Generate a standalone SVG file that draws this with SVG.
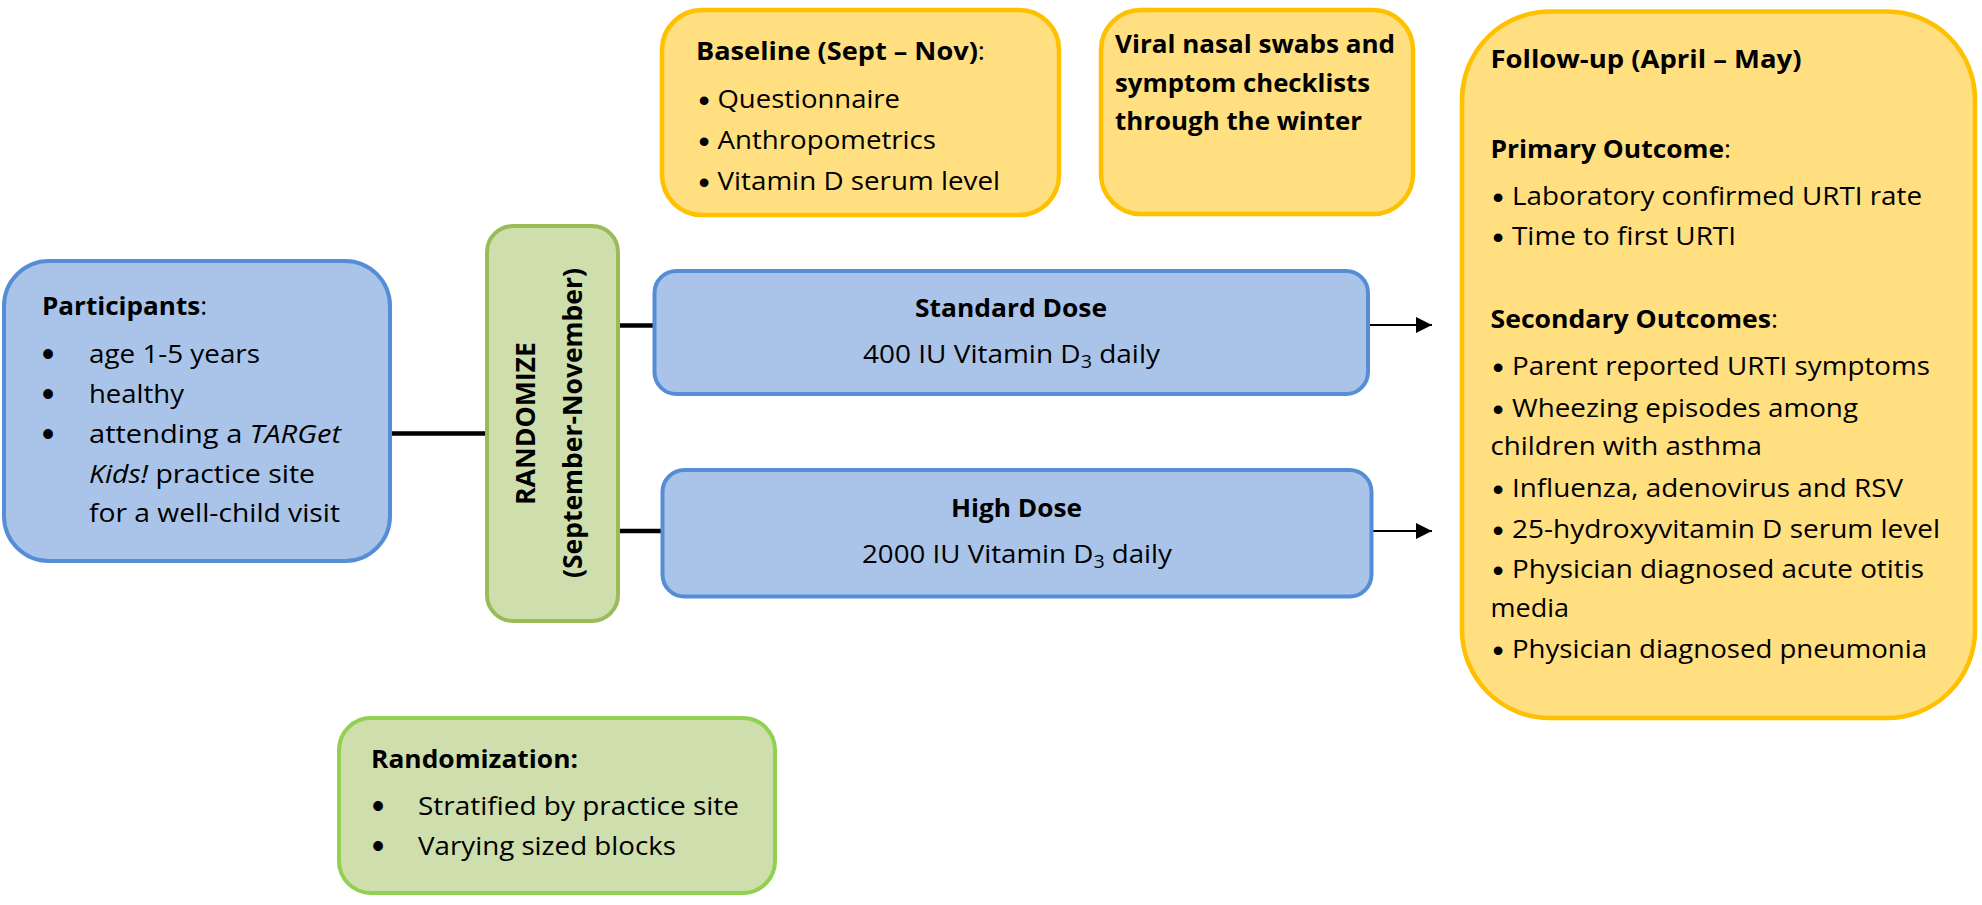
<svg xmlns="http://www.w3.org/2000/svg" width="1982" height="905" viewBox="0 0 1982 905">
<style>
.t{font-family:'Open Sans','Liberation Sans',sans-serif;font-size:25.5px;fill:#000}
.b{font-weight:bold}
.i{font-style:italic}
.bul{font-family:'Liberation Sans',sans-serif;font-size:36px;fill:#000}
.bul2{font-family:'Liberation Sans',sans-serif;font-size:32px;fill:#000}
.blue{fill:#a9c4e8;stroke:#568ed6;stroke-width:4}
.yel{fill:#ffdf80;stroke:#ffc000;stroke-width:4.5}
.grn{fill:#cfdead;stroke:#9bbb59;stroke-width:4}
.grn2{fill:#cfdead;stroke:#92d050;stroke-width:4}
.thick{stroke:#000;stroke-width:4.5;fill:none}
.thin{stroke:#000;stroke-width:2;fill:none}
</style>
<defs>
<marker id="ah2" viewBox="0 0 16 16" refX="16" refY="8" markerWidth="16" markerHeight="16" markerUnits="userSpaceOnUse" orient="auto">
<path d="M0,0 L16,8 L0,16 z" fill="#000"/>
</marker>
</defs>
<rect width="1982" height="905" fill="#fff"/>

<g id="connectors">
<line class="thick" x1="390" y1="433.5" x2="487" y2="433.5"/>
<line class="thick" x1="618" y1="325.5" x2="654" y2="325.5"/>
<line class="thick" x1="615" y1="531" x2="662" y2="531"/>
<line class="thin" x1="1368" y1="325" x2="1432" y2="325" marker-end="url(#ah2)"/>
<line class="thin" x1="1371" y1="531" x2="1432" y2="531" marker-end="url(#ah2)"/>
</g>

<g id="participants">
<rect class="blue" x="4" y="261" width="386" height="300" rx="45"/>
<text class="t" x="42" y="315" textLength="165" lengthAdjust="spacingAndGlyphs"><tspan class="b">Participants</tspan>:</text>
<text class="bul" x="48" y="366" text-anchor="middle">•</text>
<text class="bul" x="48" y="406" text-anchor="middle">•</text>
<text class="bul" x="48" y="446" text-anchor="middle">•</text>
<text class="t" x="89" y="363" textLength="171" lengthAdjust="spacingAndGlyphs">age 1-5 years</text>
<text class="t" x="89" y="403" textLength="95" lengthAdjust="spacingAndGlyphs">healthy</text>
<text class="t" x="89" y="443" textLength="252" lengthAdjust="spacingAndGlyphs">attending a <tspan class="i">TARGet</tspan></text>
<text class="t" x="89" y="483" textLength="226" lengthAdjust="spacingAndGlyphs"><tspan class="i">Kids!</tspan> practice site</text>
<text class="t" x="89" y="522" textLength="251" lengthAdjust="spacingAndGlyphs">for a well-child visit</text>
</g>

<g id="randomize">
<rect class="grn" x="487" y="226" width="131" height="395" rx="26"/>
<text class="t b" transform="translate(535,505) rotate(-90)" x="0" y="0" textLength="163" lengthAdjust="spacingAndGlyphs" style="font-size:27px">RANDOMIZE</text>
<text class="t b" transform="translate(582,578) rotate(-90)" x="0" y="0" textLength="310" lengthAdjust="spacingAndGlyphs" style="font-size:27px">(September-November)</text>
</g>

<g id="standard-dose">
<rect class="blue" x="654.5" y="271" width="713.5" height="123" rx="22"/>
<text class="t b" x="915" y="317" textLength="192" lengthAdjust="spacingAndGlyphs">Standard Dose</text>
<text class="t" x="863" y="363" textLength="297" lengthAdjust="spacingAndGlyphs">400 IU Vitamin D<tspan dy="5" style="font-size:18px">3</tspan><tspan dy="-5"> daily</tspan></text>
</g>

<g id="high-dose">
<rect class="blue" x="662.5" y="470" width="709" height="126.5" rx="22"/>
<text class="t b" x="951" y="517" textLength="131" lengthAdjust="spacingAndGlyphs">High Dose</text>
<text class="t" x="862" y="563" textLength="310" lengthAdjust="spacingAndGlyphs">2000 IU Vitamin D<tspan dy="5" style="font-size:18px">3</tspan><tspan dy="-5"> daily</tspan></text>
</g>

<g id="baseline">
<rect class="yel" x="662" y="10" width="397" height="205" rx="40"/>
<text class="t" x="696" y="60" textLength="289" lengthAdjust="spacingAndGlyphs"><tspan class="b">Baseline (Sept – Nov)</tspan>:</text>
<text class="bul2" x="704" y="110.5" text-anchor="middle">•</text>
<text class="bul2" x="704" y="151.5" text-anchor="middle">•</text>
<text class="bul2" x="704" y="192.5" text-anchor="middle">•</text>
<text class="t" x="717.5" y="108" textLength="182.5" lengthAdjust="spacingAndGlyphs">Questionnaire</text>
<text class="t" x="717.5" y="149" textLength="218.5" lengthAdjust="spacingAndGlyphs">Anthropometrics</text>
<text class="t" x="717.5" y="190" textLength="282.5" lengthAdjust="spacingAndGlyphs">Vitamin D serum level</text>
</g>

<g id="viral-swabs">
<rect class="yel" x="1101" y="10" width="312" height="204" rx="40"/>
<text class="t b" x="1115" y="53" textLength="280" lengthAdjust="spacingAndGlyphs">Viral nasal swabs and</text>
<text class="t b" x="1115" y="92" textLength="255" lengthAdjust="spacingAndGlyphs">symptom checklists</text>
<text class="t b" x="1115" y="130" textLength="247" lengthAdjust="spacingAndGlyphs">through the winter</text>
</g>

<g id="follow-up">
<rect class="yel" x="1462" y="11.5" width="513" height="706.5" rx="88"/>
<text class="t" x="1490.5" y="68" textLength="311" lengthAdjust="spacingAndGlyphs"><tspan class="b">Follow-up (April – May)</tspan></text>
<text class="t" x="1490.5" y="158" textLength="240.5" lengthAdjust="spacingAndGlyphs"><tspan class="b">Primary Outcome</tspan>:</text>
<text class="bul2" x="1498" y="207.5" text-anchor="middle">•</text>
<text class="t" x="1512" y="205" textLength="410" lengthAdjust="spacingAndGlyphs">Laboratory confirmed URTI rate</text>
<text class="bul2" x="1498" y="247.5" text-anchor="middle">•</text>
<text class="t" x="1512" y="245" textLength="224" lengthAdjust="spacingAndGlyphs">Time to first URTI</text>
<text class="t" x="1490.5" y="328" textLength="287.5" lengthAdjust="spacingAndGlyphs"><tspan class="b">Secondary Outcomes</tspan>:</text>
<text class="bul2" x="1498" y="377.5" text-anchor="middle">•</text>
<text class="t" x="1512" y="375" textLength="418" lengthAdjust="spacingAndGlyphs">Parent reported URTI symptoms</text>
<text class="bul2" x="1498" y="419.5" text-anchor="middle">•</text>
<text class="t" x="1512" y="417" textLength="346" lengthAdjust="spacingAndGlyphs">Wheezing episodes among</text>
<text class="t" x="1490.5" y="455" textLength="271.5" lengthAdjust="spacingAndGlyphs">children with asthma</text>
<text class="bul2" x="1498" y="499.5" text-anchor="middle">•</text>
<text class="t" x="1512" y="497" textLength="391" lengthAdjust="spacingAndGlyphs">Influenza, adenovirus and RSV</text>
<text class="bul2" x="1498" y="540.5" text-anchor="middle">•</text>
<text class="t" x="1512" y="538" textLength="428" lengthAdjust="spacingAndGlyphs">25-hydroxyvitamin D serum level</text>
<text class="bul2" x="1498" y="580.5" text-anchor="middle">•</text>
<text class="t" x="1512" y="578" textLength="412" lengthAdjust="spacingAndGlyphs">Physician diagnosed acute otitis</text>
<text class="t" x="1490.5" y="617" textLength="78.5" lengthAdjust="spacingAndGlyphs">media</text>
<text class="bul2" x="1498" y="660.5" text-anchor="middle">•</text>
<text class="t" x="1512" y="658" textLength="415" lengthAdjust="spacingAndGlyphs">Physician diagnosed pneumonia</text>
</g>

<g id="randomization">
<rect class="grn2" x="339" y="718" width="436" height="175" rx="32"/>
<text class="t b" x="371" y="768" textLength="207" lengthAdjust="spacingAndGlyphs">Randomization:</text>
<text class="bul" x="378" y="818" text-anchor="middle">•</text>
<text class="bul" x="378" y="858" text-anchor="middle">•</text>
<text class="t" x="418" y="815" textLength="321" lengthAdjust="spacingAndGlyphs">Stratified by practice site</text>
<text class="t" x="418" y="855" textLength="258" lengthAdjust="spacingAndGlyphs">Varying sized blocks</text>
</g>
</svg>
